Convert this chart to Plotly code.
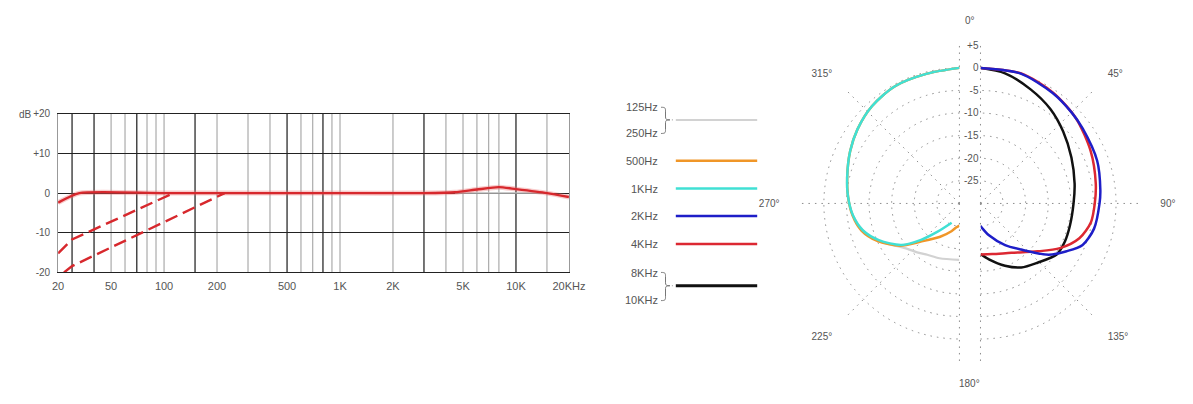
import plotly.graph_objects as go

# Page is 1193x404; the browser's default 8px body margin surrounds the figure.
PAGE_W, PAGE_H = 1193, 404
OFF = 8
FW, FH = PAGE_W - 2 * OFF, PAGE_H - 2 * OFF
FONT = "Liberation Sans"
TXT = "#555555"

def px(x):
    return (x - OFF) / FW

def py(y):
    return 1 - (y - OFF) / FH

# ---------------- frequency response data ----------------
x_tickvals = [25, 50, 100, 200, 500, 1000, 2000, 5000, 10000, 20000]
x_ticktext = ["20", "50", "100", "200", "500", "1K", "2K", "5K", "10K", "20KHz"]
y_tickvals = [-20, -10, 0, 10, 20]
y_ticktext = ["-20", "-10", "0", "+10", "+20"]

grid_light = [50, 60, 80, 90, 100, 200, 300, 400, 600, 700, 900, 1000,
              2000, 4000, 5000, 6000, 7000, 8000, 15000]
grid_dark = [30, 40, 70, 150, 500, 800, 3000, 10000]

resp_freq = [25, 33, 100, 1000, 3000, 4500, 6000, 8000, 10000, 15000, 20000]
resp_db = [-2.4, 0, 0, 0, 0, 0.2, 0.9, 1.5, 1.0, 0.0, -1.0]

ref_freq = [4500, 15000]
ref_db = [0, 0]

cut1_freq = [25, 30, 113]
cut1_db = [-15.2, -11.7, 0]

cut2_freq = [27, 30, 221]
cut2_db = [-20, -18.4, 0]

# ---------------- polar pattern data ----------------
r_tickvals = [-25, -20, -15, -10, -5, 0, 5]
r_ticktext = ["-25", "-20", "-15", "-10", "-5", "0", "+5"]

# left half (low frequencies)
lo125_theta = [360, 346, 331, 318, 306, 295.5, 283, 273.5, 263.5, 254.5, 246, 238, 230.7, 220, 212, 200, 180]
lo125_db = [0, -0.4, -0.4, -1.05, -2.1, -3.2, -4.5, -5.3, -6.3, -7.8, -10.0, -12.6, -14.4, -15.8, -16.6, -17.1, -17.5]

f500_theta = [360, 346, 331, 318, 306, 295.5, 283, 273.5, 263.5, 254.5, 245.5, 234.5, 225.3, 210, 196, 187, 180]
f500_db = [0, -0.4, -0.4, -1.05, -2.1, -3.2, -4.5, -5.3, -6.2, -7.5, -10.0, -13.9, -18.0, -21.5, -23.6, -24.7, -25.1]

f1k_theta = [360, 346, 331, 318, 306, 295.5, 283, 273.5, 263.5, 254.5, 245.5, 234.5, 226.5, 218, 202]
f1k_db = [0, -0.4, -0.4, -1.05, -2.1, -3.2, -4.5, -5.3, -6.3, -7.8, -10.4, -14.2, -18.3, -22.0, -25.4]

# right half (high frequencies)
f2k_theta = [0, 17, 33, 45, 53.7, 69.9, 83.5, 90, 102.5, 112.1, 119, 126.9, 138.6, 149.4, 165.1, 180]
f2k_db = [0, 0.1, -0.8, -1.5, -1.95, -2.5, -3.3, -3.65, -4.25, -5.6, -8.2, -11.1, -16.4, -19.3, -22.7, -25.0]

f4k_theta = [0, 17.4, 33.4, 48.5, 64.6, 80.1, 90, 99.6, 109.4, 119.3, 130, 147.9, 167, 180]
f4k_db = [0, 0.15, -0.7, -1.7, -3.0, -4.1, -4.7, -5.2, -6.8, -9.8, -13.5, -17.1, -18.5, -18.7]

hi8k_theta = [0, 10.7, 23.9, 36.5, 49, 63.2, 78, 90, 103.9, 114.3, 123.8, 136.1, 147.5, 158.5, 171.4, 180]
hi8k_db = [0, -0.7, -2.45, -4.0, -5.75, -7.45, -8.7, -9.4, -9.6, -9.5, -9.7, -11.8, -13.2, -15.2, -17.5, -18.8]

# angular ticks (left half expressed in the axis' own range, -180..0 == 180..360)
right_ang_vals = [0, 45, 90, 135, 180]
right_ang_text = ["", "45°", "90°", "135°", ""]
left_ang_vals = [-180, -135, -90, -45, 0]
left_ang_text = ["", "225°", "270°", "315°", ""]

legend_labels = ["125Hz", "250Hz", "500Hz", "1KHz", "2KHz", "4KHz", "8KHz", "10KHz"]

COL_GRAY = "#d2d2d2"
COL_ORANGE = "rgb(240,150,40)"
COL_CYAN = "rgb(64,224,212)"
COL_BLUE = "rgb(30,30,200)"
COL_RED = "rgb(220,40,50)"
COL_BLACK = "#111111"
COL_RESP = "rgb(215,40,45)"

fig = go.Figure()

# ---- frequency response traces ----
fig.add_trace(go.Scatter(x=ref_freq, y=ref_db, mode="lines",
                         line=dict(color="#bbbbbb", width=1.5), hoverinfo="skip"))
fig.add_trace(go.Scatter(x=resp_freq, y=resp_db, mode="lines",
                         line=dict(color="rgba(235,110,110,0.35)", width=5, shape="spline", smoothing=0.6),
                         hoverinfo="skip"))
fig.add_trace(go.Scatter(x=resp_freq, y=resp_db, mode="lines",
                         line=dict(color=COL_RESP, width=2.4, shape="spline", smoothing=0.6)))
fig.add_trace(go.Scatter(x=cut1_freq, y=cut1_db, mode="lines",
                         line=dict(color=COL_RESP, width=2.4, dash="13px,6px")))
fig.add_trace(go.Scatter(x=cut2_freq, y=cut2_db, mode="lines",
                         line=dict(color=COL_RESP, width=2.4, dash="13px,6px")))

# ---- polar traces ----
def pol(theta, r, color, sub, width=2.5):
    fig.add_trace(go.Scatterpolar(theta=theta, r=r, mode="lines", subplot=sub,
                                  line=dict(color=color, width=width, shape="spline", smoothing=0.8)))

pol(lo125_theta, lo125_db, COL_GRAY, "polar2", 2.2)
pol(f500_theta, f500_db, COL_ORANGE, "polar2")
pol(f1k_theta, f1k_db, COL_CYAN, "polar2")
pol(hi8k_theta, hi8k_db, COL_BLACK, "polar")
pol(f4k_theta, f4k_db, COL_RED, "polar")
pol(f2k_theta, f2k_db, COL_BLUE, "polar")

# ---- shapes: frequency grid ----
shapes = []
for f in grid_light:
    shapes.append(dict(type="line", xref="x", yref="y domain", x0=f, x1=f, y0=0, y1=1,
                       line=dict(color="#9a9a9a", width=1), layer="below"))
for f in grid_dark:
    shapes.append(dict(type="line", xref="x", yref="y domain", x0=f, x1=f, y0=0, y1=1,
                       line=dict(color="#1a1a1a", width=1.2), layer="below"))

# ---- legend (swatches, labels, braces) ----
leg_x0, leg_x1 = 683, 766
leg_rows = [  # (y px, color, width)
    (118, COL_GRAY, 2),
    (160, COL_ORANGE, 2.5),
    (188.7, COL_CYAN, 2.5),
    (217, COL_BLUE, 2.5),
    (245.7, COL_RED, 2.5),
    (288.7, COL_BLACK, 3),
]
for y, c, w in leg_rows:
    shapes.append(dict(type="line", xref="paper", yref="paper",
                       x0=px(leg_x0), x1=px(leg_x1), y0=py(y), y1=py(y),
                       line=dict(color=c, width=w)))

label_y = [105, 131.7, 160, 188.7, 217, 245.7, 275.3, 303.7]
annotations = []
for t, y in zip(legend_labels, label_y):
    annotations.append(dict(text=t, x=px(667), y=py(y), xref="paper", yref="paper",
                            xanchor="right", yanchor="middle", showarrow=False,
                            font=dict(family=FONT, size=11, color=TXT)))

def brace(top, bot, tip):
    xl, xm, xt = 668, 672.5, 677
    pts = [
        f"M {px(xl)},{py(top)}",
        f"C {px(xm)},{py(top)} {px(xm)},{py(top+1)} {px(xm)},{py(top+4)}",
        f"L {px(xm)},{py(tip-3)}",
        f"C {px(xm)},{py(tip-0.5)} {px(xm+1)},{py(tip)} {px(xt)},{py(tip)}",
        f"C {px(xm+1)},{py(tip)} {px(xm)},{py(tip+0.5)} {px(xm)},{py(tip+3)}",
        f"L {px(xm)},{py(bot-4)}",
        f"C {px(xm)},{py(bot-1)} {px(xm)},{py(bot)} {px(xl)},{py(bot)}",
    ]
    shapes.append(dict(type="path", xref="paper", yref="paper", path=" ".join(pts),
                       line=dict(color="#777777", width=1)))
    shapes.append(dict(type="line", xref="paper", yref="paper",
                       x0=px(xt + 2), x1=px(leg_x0), y0=py(tip), y1=py(tip),
                       line=dict(color="#999999", width=1, dash="1px,3px")))

brace(105, 132, 118)
brace(275, 304, 288.7)

# ---- misc text ----
annotations.append(dict(text="dB", x=px(11), y=py(112), xref="paper", yref="paper",
                        xanchor="left", yanchor="middle", showarrow=False,
                        font=dict(family=FONT, size=10, color=TXT)))
annotations.append(dict(text="0°", x=px(983), y=py(16), xref="paper", yref="paper",
                        xanchor="center", yanchor="middle", showarrow=False,
                        font=dict(family=FONT, size=10, color=TXT)))
annotations.append(dict(text="180°", x=px(983), y=py(389), xref="paper", yref="paper",
                        xanchor="center", yanchor="middle", showarrow=False,
                        font=dict(family=FONT, size=10, color=TXT)))

GRID_DOT = "1.5px,5px"
GRID_COL = "#8c8c8c"
radial_common = dict(range=[-30, 5.05], tickvals=r_tickvals, ticktext=r_ticktext,
                     showline=False, ticks="", gridcolor=GRID_COL, griddash=GRID_DOT,
                     gridwidth=1.2, tickangle=90, tickfont=dict(family=FONT, size=10, color=TXT))
ang_common = dict(rotation=90, direction="clockwise", showline=False,
                  gridcolor=GRID_COL, griddash=GRID_DOT, gridwidth=1.2,
                  ticks="outside", ticklen=19, tickcolor="rgba(0,0,0,0)",
                  tickfont=dict(family=FONT, size=10, color=TXT))

fig.update_layout(
    width=FW, height=FH,
    margin=dict(l=0, r=0, t=0, b=0, pad=0),
    paper_bgcolor="white", plot_bgcolor="white",
    showlegend=False,
    xaxis=dict(type="log", domain=[px(53), px(574)],
               range=[1.39794, 4.30103],
               tickvals=x_tickvals, ticktext=x_ticktext,
               showgrid=False, zeroline=False,
               showline=True, mirror=True, linecolor="#222222", linewidth=1,
               ticks="outside", ticklen=3, tickcolor="rgba(0,0,0,0)",
               tickfont=dict(family=FONT, size=11, color=TXT)),
    yaxis=dict(domain=[py(275), py(111.7)], range=[-20, 20],
               tickvals=y_tickvals, ticktext=y_ticktext,
               showgrid=True, gridcolor="#222222", gridwidth=1, zeroline=False,
               showline=True, mirror=True, linecolor="#999999", linewidth=1,
               ticks="outside", ticklen=5, tickcolor="rgba(0,0,0,0)",
               tickfont=dict(family=FONT, size=10, color=TXT)),
    polar=dict(domain=dict(x=[px(993), px(1156)], y=[py(367), py(41)]),
               sector=[-90, 90], bgcolor="rgba(0,0,0,0)",
               radialaxis=dict(angle=90, side="counterclockwise", showticklabels=True, **radial_common),
               angularaxis=dict(tickvals=right_ang_vals, ticktext=right_ang_text, **ang_common)),
    polar2=dict(domain=dict(x=[px(810), px(973)], y=[py(367), py(41)]),
                sector=[90, 270], bgcolor="rgba(0,0,0,0)",
                radialaxis=dict(angle=90, showticklabels=False, **radial_common),
                angularaxis=dict(tickvals=left_ang_vals, ticktext=left_ang_text, **ang_common)),
    shapes=shapes,
    annotations=annotations,
)

fig.write_html("out.html", config={"displayModeBar": False})
